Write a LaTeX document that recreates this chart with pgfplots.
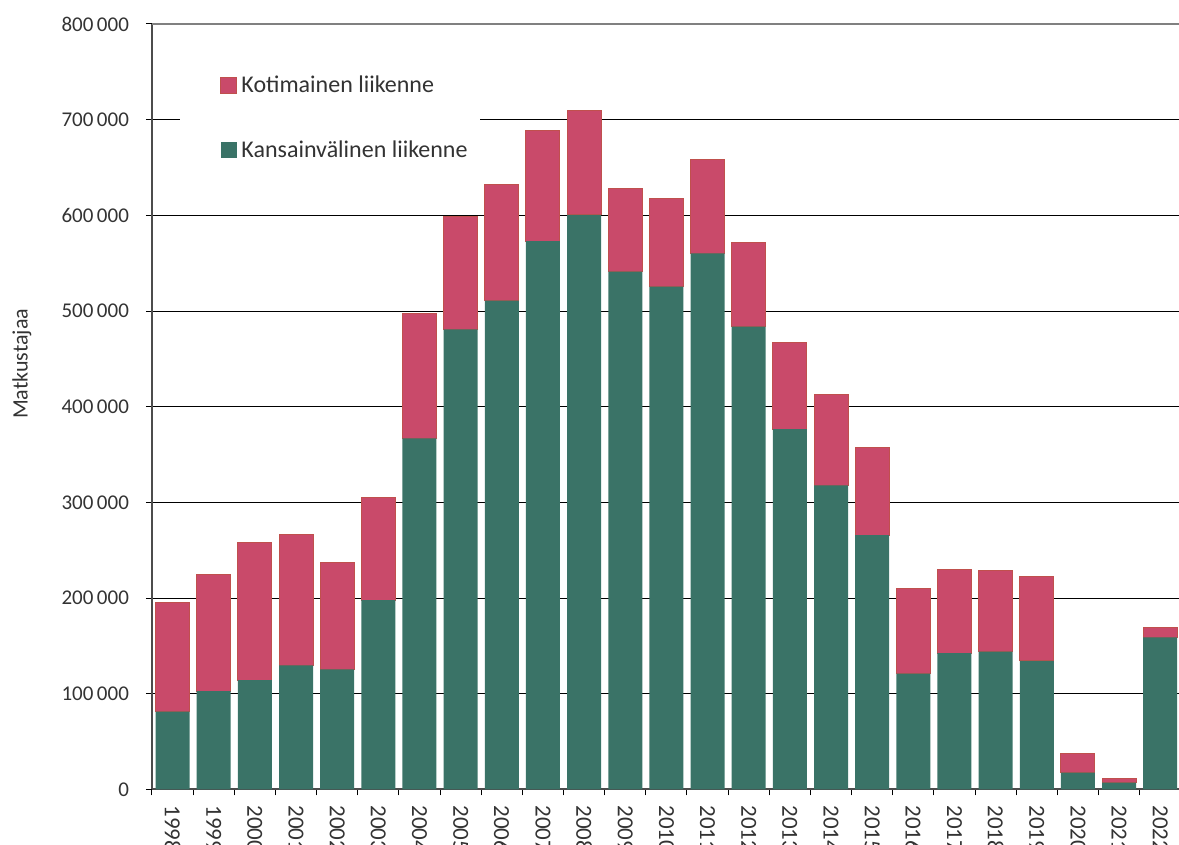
\documentclass[border=0pt]{standalone}
\usepackage{pgfplots}
\pgfplotsset{compat=1.18}
\usepackage{fontspec}
\setmainfont{Carlito}
\definecolor{koti}{HTML}{C94A6A}
\definecolor{kotiedge}{HTML}{C0504D}
\definecolor{kans}{HTML}{3A7367}
\definecolor{txt}{HTML}{333333}
\begin{document}
\begin{tikzpicture}
\begin{axis}[
  name=ax,
  scale only axis,
  width=514.4pt, height=382.75pt,
  xmin=-0.5, xmax=24.5,
  ymin=0, ymax=800000,
  ybar stacked, bar width=0.826, bar shift=0pt,
  axis lines*=left,
  axis line style={draw=black!70, line width=1pt},
  tick align=outside,
  xtick={0,...,24},
  xticklabels={1998,1999,2000,2001,2002,2003,2004,2005,2006,2007,2008,2009,2010,2011,2012,2013,2014,2015,2016,2017,2018,2019,2020,2021,2022},
  major x tick style={draw=none},
  minor xtick={-0.5,0.5,...,24.5},
  minor x tick style={draw=black, line width=0.5pt},
  minor tick length=3pt,
  xticklabel style={rotate=-90, anchor=west, font=\fontsize{11.5}{12}\selectfont, text=txt, xshift=1.5pt},
  ytick={0,100000,...,800000},
  major y tick style={draw=black, line width=0.5pt},
  major tick length=3pt,
  yticklabel style={font=\fontsize{10.5}{12}\selectfont, text=txt, xshift=-5pt},
  /pgf/number format/.cd, fixed, precision=0, 1000 sep={\,}, assume math mode=true,
  /pgfplots/.cd,
  scaled y ticks=false,
  ymajorgrids,
  grid style={black, line width=0.5pt},
  ylabel={Matkustajaa},
  ylabel style={at={(rel axis cs:-0.1265,0.556)}, anchor=center, font=\fontsize{11}{12}\selectfont, text=txt},
  reverse legend,
  legend cell align=left,
  legend style={at={(rel axis cs:0.0584,0.948)}, anchor=north west, fill=white, draw=none,
    inner xsep=4pt, inner ysep=4pt, row sep=18.5pt,
    font=\fontsize{12}{14}\selectfont, text=txt},
  legend image code/.code={\fill[#1] (0pt,-3.5pt) rectangle (8pt,4.5pt);},
]
\addplot[fill=kans, draw=none] coordinates {
(0,81300) (1,102900) (2,114400) (3,129800) (4,125600) (5,198000) (6,367000) (7,480900) (8,510800) (9,573200) (10,600400) (11,541100) (12,525400) (13,560200) (14,483600) (15,376700) (16,317900) (17,265900) (18,121000) (19,142600) (20,144000) (21,134300) (22,17600) (23,7100) (24,159000)};
\addlegendentry{Kansainvälinen liikenne}
\addplot[fill=koti, draw=kotiedge, line width=0.5pt] coordinates {
(0,113900) (1,121400) (2,143500) (3,136700) (4,111600) (5,107200) (6,130200) (7,117400) (8,121600) (9,115300) (10,109700) (11,86700) (12,92700) (13,98200) (14,88400) (15,90100) (16,95400) (17,91400) (18,88800) (19,87500) (20,84600) (21,88800) (22,19500) (23,3900) (24,10800)};
\addlegendentry{Kotimainen liikenne}
\fill[white] (rel axis cs:0.027,0.86) rectangle (rel axis cs:0.065,0.89);
\draw[black!50, line width=1pt] (rel axis cs:0,1) -- (rel axis cs:1,1);
\coordinate (bl) at (rel axis cs:0,0);
\coordinate (tr) at (rel axis cs:1,1);
\end{axis}
\pgfresetboundingbox
\path[use as bounding box] ([xshift=-76pt,yshift=-27.75pt]bl) rectangle ([xshift=-0.9pt,yshift=12pt]tr);
\end{tikzpicture}
\end{document}
